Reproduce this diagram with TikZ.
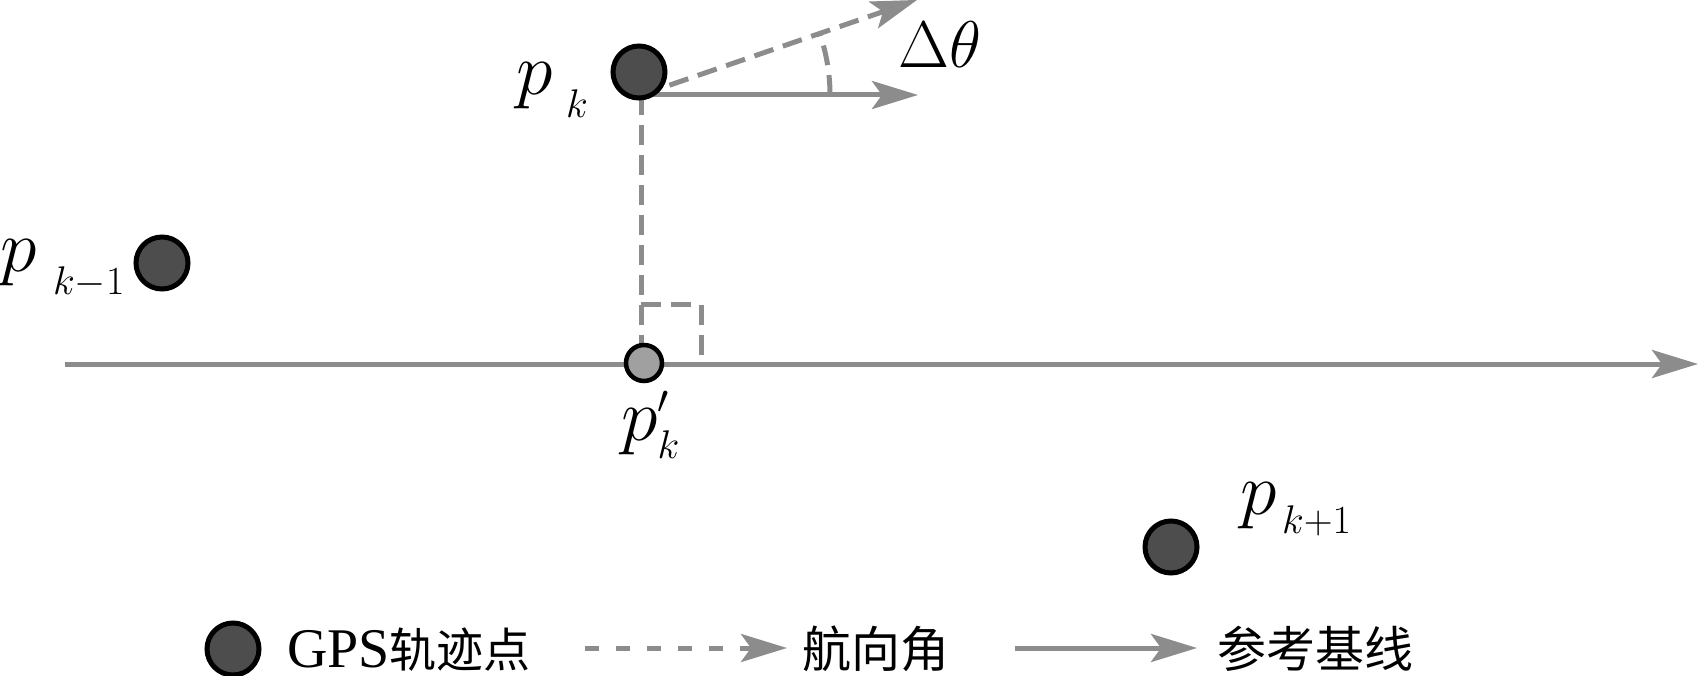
\documentclass[tikz,border=0pt]{standalone}
\usepackage{fix-cm}
\usepackage{fontspec}
\setmainfont{Liberation Serif}
\newfontfamily\cjk{Noto Sans CJK SC}
\DeclareMathSizes{74}{74}{40}{28}
\usetikzlibrary{arrows.meta,calc}
\definecolor{linegray}{HTML}{8C8C8C}
\definecolor{ptdark}{HTML}{4D4D4D}
\definecolor{ptlight}{HTML}{A0A0A0}
\begin{document}
\begin{tikzpicture}[x=1pt,y=-1pt,
  gline/.style={draw=linegray,line width=5pt},
  dline/.style={gline,dash pattern=on 20pt off 10pt},
  ldline/.style={gline,dash pattern=on 14pt off 17pt},
  tipped/.style={-{Stealth[length=46pt,width=28pt,inset=10pt]}},
  gpspt/.style={circle,draw=black,line width=5pt,fill=ptdark,minimum size=52pt,inner sep=0pt},
  footpt/.style={circle,draw=black,line width=4.5pt,fill=ptlight,minimum size=36pt,inner sep=0pt},
  bigp/.style={anchor=base west,inner sep=0pt,font=\fontsize{74}{80}\selectfont},
  subk/.style={anchor=base west,inner sep=0pt,font=\fontsize{40}{44}\selectfont},
  legtext/.style={anchor=base west,inner sep=0pt,font=\fontsize{49}{54}\selectfont\cjk}
]
\useasboundingbox (0,0) rectangle (1700,676);
% positions
\coordinate (cpk) at (639,72);
\coordinate (o) at (641,95);
\coordinate (ra) at (918,95);
\coordinate (hd) at ($(o)+(19:292pt)$);
\coordinate (cfoot) at (644,363);
\coordinate (bl0) at (65,364);
\coordinate (bl1) at (1698,364);
\coordinate (sq1) at (641,305);
\coordinate (sq2) at (701,305);
\coordinate (sq3) at (701,364);
\coordinate (cpkm) at (162,263);
\coordinate (cpkp) at (1171,547);
% lines
\draw[gline,tipped] (bl0) -- (bl1);
\draw[gline,tipped] (o) -- (ra);
\draw[dline,tipped] (o) -- (hd);
\draw[dline] ($(o)+(189pt,0pt)$) arc[start angle=0,end angle=19,radius=189pt];
\draw[dline] (o) -- (o |- cfoot);
\draw[dline] (sq1) -- (sq2) -- (sq3);
% points
\node[gpspt] (pk) at (cpk) {};
\node[footpt] (pkf) at (cfoot) {};
\node[gpspt] (pkm) at (cpkm) {};
\node[gpspt] (pkp) at (cpkp) {};
% labels
\node[bigp] (lpk) at (516,95) {$p$};
\node[subk] (lpks) at (566,118) {$k$};
\node[bigp] (lpkm) at (0,272) {$p$};
\node[subk] (lpkms) at (53,295) {$k{-}1$};
\node[bigp] (lpkp) at (1240,514) {$p$};
\node[subk] (lpkps) at (1282,533) {$k{+}1$};
\node[bigp] (lpf) at (621,440) {$p'_{k}$};
\node[anchor=base west,inner sep=0pt,font=\fontsize{66}{72}\selectfont] (dth) at (898,68) {$\Delta\theta$};
% legend
\node[gpspt] (legpt) at (233,649) {};
\node[anchor=base west,inner sep=0pt,font=\fontsize{56}{60}\selectfont] (leg1) at (287,667) {GPS{\fontsize{47}{52}\selectfont\cjk 轨迹点}};
\coordinate (ld0) at (585,648);
\coordinate (ld1) at (787,648);
\draw[ldline,tipped] (ld0) -- (ld1);
\node[legtext] (leg2) at (802,667) {航向角};
\coordinate (ls0) at (1015,648);
\coordinate (ls1) at (1197,648);
\draw[gline,tipped] (ls0) -- (ls1);
\node[legtext] (leg3) at (1217,667) {参考基线};
\end{tikzpicture}
\end{document}
